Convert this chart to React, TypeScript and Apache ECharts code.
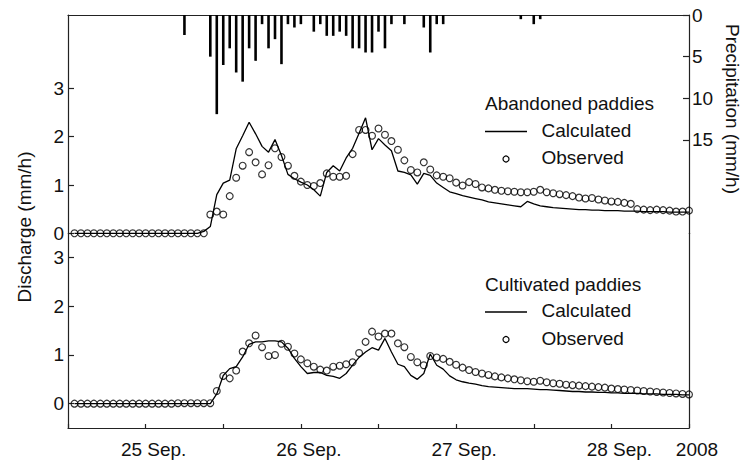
import React, { useEffect, useRef } from "react";
import * as echarts from "echarts";

// Hourly precipitation (hour since 25 Sep 00:00, mm/h)
const precipHours = [18, 22, 23, 24, 25, 26, 27, 28, 29, 30, 31, 32, 33, 34, 35, 36, 38, 39, 40, 41, 42, 43, 44, 45, 46, 47, 48, 49, 50, 52, 55, 56, 57, 58, 70, 72, 73];
const precipValues = [2.4, 5.0, 11.9, 6.0, 4.0, 6.9, 8.0, 4.0, 5.5, 1.1, 4.0, 2.9, 5.9, 1.1, 1.5, 1.1, 2.0, 1.1, 2.5, 2.5, 2.0, 2.5, 4.0, 4.0, 4.5, 4.5, 2.0, 4.0, 1.1, 1.1, 1.5, 4.5, 1.1, 1.1, 0.5, 1.1, 0.5];

// Discharge (mm/h), hours 1..96
const abandonedObs = [
  0, 0, 0, 0, 0, 0, 0, 0, 0, 0, 0, 0, 0, 0, 0, 0, 0, 0, 0, 0, 0,
  0.39, 0.45, 0.39, 0.77, 1.15, 1.40, 1.68, 1.47, 1.22, 1.41,
  1.76, 1.58, 1.40, 1.19, 1.07, 1.00, 0.98, 1.04, 1.24, 1.17,
  1.17, 1.19, 1.64, 2.14, 2.14, 2.02, 2.17, 2.04, 1.91, 1.73,
  1.51, 1.31, 1.26, 1.47, 1.32, 1.20, 1.17, 1.14, 1.05, 0.99,
  1.06, 1.02, 0.95, 0.93, 0.90, 0.88, 0.87, 0.86, 0.85, 0.85,
  0.86, 0.90, 0.85, 0.83, 0.81, 0.79, 0.77, 0.74, 0.72, 0.73,
  0.70, 0.68, 0.66, 0.65, 0.63, 0.61, 0.50, 0.49, 0.48, 0.49,
  0.48, 0.47, 0.45, 0.45, 0.47,
];
const abandonedCalc = [
  0, 0, 0, 0, 0, 0, 0, 0, 0, 0, 0, 0, 0, 0, 0, 0, 0, 0, 0, 0,
  0.04, 0.14, 0.80, 1.04, 1.10, 1.75, 2.02, 2.30, 2.06, 1.80,
  1.68, 1.94, 1.61, 1.22, 1.13, 1.06, 1.00, 0.90, 0.77, 1.26,
  1.40, 1.29, 1.56, 1.76, 2.07, 2.39, 1.73, 1.96, 1.83, 1.71,
  1.29, 1.26, 1.21, 1.02, 1.24, 1.20, 1.04, 0.95, 0.86, 0.82,
  0.78, 0.75, 0.72, 0.69, 0.65, 0.63, 0.61, 0.59, 0.57, 0.55,
  0.66, 0.61, 0.57, 0.55, 0.53, 0.52, 0.51, 0.50, 0.49, 0.49,
  0.48, 0.48, 0.47, 0.47, 0.47, 0.46, 0.46, 0.46, 0.45, 0.45,
  0.45, 0.45, 0.44, 0.44, 0.44, 0.44,
];
const cultivatedObs = [
  0, 0, 0, 0, 0, 0, 0, 0, 0, 0, 0, 0, 0, 0, 0, 0, 0.01, 0.01, 0.01, 0.01, 0.01, 0.01,
  0.26, 0.57, 0.52, 0.68, 1.07, 1.24, 1.40, 1.16, 0.98, 1.00,
  1.23, 1.17, 1.03, 0.91, 0.83, 0.76, 0.70, 0.68, 0.76, 0.78,
  0.81, 0.85, 1.04, 1.27, 1.48, 1.38, 1.44, 1.44, 1.24, 1.16,
  0.96, 0.85, 0.79, 0.98, 0.95, 0.92, 0.86, 0.80, 0.74, 0.69,
  0.65, 0.62, 0.59, 0.56, 0.54, 0.52, 0.50, 0.48, 0.46, 0.45,
  0.47, 0.44, 0.42, 0.41, 0.39, 0.38, 0.37, 0.36, 0.35, 0.34,
  0.33, 0.31, 0.30, 0.29, 0.28, 0.27, 0.26, 0.25, 0.24, 0.23,
  0.22, 0.21, 0.20, 0.19,
];
const cultivatedCalc = [
  0, 0, 0, 0, 0, 0, 0, 0, 0, 0, 0, 0, 0, 0, 0, 0, 0, 0, 0, 0, 0, 0,
  0.20, 0.58, 0.72, 0.76, 0.96, 1.22, 1.27, 1.27, 1.29, 1.29,
  1.27, 1.14, 0.93, 0.76, 0.62, 0.64, 0.64, 0.58, 0.56, 0.52,
  0.62, 0.79, 0.95, 1.06, 1.15, 1.10, 1.34, 1.06, 0.81, 0.76,
  0.58, 0.50, 0.62, 1.02, 0.79, 0.71, 0.57, 0.49, 0.45, 0.42,
  0.40, 0.37, 0.35, 0.34, 0.33, 0.32, 0.31, 0.31, 0.31, 0.30,
  0.29, 0.29, 0.28, 0.27, 0.26, 0.25, 0.25, 0.24, 0.24, 0.23,
  0.23, 0.22, 0.22, 0.21, 0.21, 0.21, 0.20, 0.20, 0.20, 0.19,
  0.19, 0.19, 0.18, 0.18,
];

const dischargeTicks = [0, 1, 2, 3];
const precipTicks = [0, 5, 10, 15];
const xLabelHours = [12, 36, 60, 84, 96];
const xLabelTexts = ["25 Sep.", "26 Sep.", "27 Sep.", "28 Sep.", "2008"];

const FONT = "'Liberation Sans', Arial, Helvetica, sans-serif";
const INK = "#111";

export default function App() {
  const ref = useRef<HTMLDivElement>(null);
  useEffect(() => {
    if (!ref.current) return;
    const chart = echarts.init(ref.current, undefined, { renderer: "svg" });
    const toPairs = (arr: number[]) => arr.map((v, i) => [i + 1, v]);
    const axisLine = { show: true, onZero: false, lineStyle: { color: "#222", width: 1.2 } };
    const labelStyle = { color: INK, fontSize: 19, fontFamily: FONT };

    const legendBlock = (title: string, top: number) => [
      { type: "text", left: 485, top: top - 11, style: { text: title, fill: INK, font: `19px ${FONT}` } },
      { type: "line", shape: { x1: 485, y1: top + 26.5, x2: 527, y2: top + 26.5 }, style: { stroke: "#000", lineWidth: 1.3 } },
      { type: "text", left: 541.5, top: top + 15.5, style: { text: "Calculated", fill: INK, font: `19px ${FONT}` } },
      { type: "circle", shape: { cx: 506, cy: top + 54, r: 3 }, style: { fill: "none", stroke: "#000", lineWidth: 1.2 } },
      { type: "text", left: 541.5, top: top + 43, style: { text: "Observed", fill: INK, font: `19px ${FONT}` } },
    ];

    chart.setOption({
      animation: false,
      textStyle: { fontFamily: FONT },
      grid: [
        { left: 68, right: 63, top: 15, height: 218.3 },
        { left: 68, right: 63, top: 233.3, height: 194.7 },
      ],
      xAxis: [
        {
          gridIndex: 0, type: "value", min: 0, max: 96, position: "top",
          axisLine, axisTick: { show: false }, axisLabel: { show: false }, splitLine: { show: false },
        },
        {
          gridIndex: 1, type: "value", min: 0, max: 96, interval: 12, position: "bottom",
          axisLine,
          axisTick: { show: true, inside: true, length: 4, lineStyle: { color: "#222", width: 1.2 } },
          axisLabel: {
            ...labelStyle, margin: 12, padding: [0, 0, 0, 16],
            showMinLabel: true, showMaxLabel: true,
            formatter: (v: number) => {
              const i = xLabelHours.indexOf(Math.round(v));
              return i >= 0 ? xLabelTexts[i] : "";
            },
          },
          splitLine: { show: false },
        },
      ],
      yAxis: [
        {
          gridIndex: 0, type: "value", min: 0, max: 4.52, position: "left",
          axisLine,
          axisTick: { show: true, inside: true, length: 6, customValues: dischargeTicks, lineStyle: { color: "#222", width: 1.2 } },
          axisLabel: { ...labelStyle, margin: 4, customValues: dischargeTicks },
          splitLine: { show: false },
        },
        {
          gridIndex: 0, type: "value", min: 0, max: 26.2, inverse: true, position: "right",
          axisLine,
          axisTick: { show: true, inside: true, length: 6, customValues: precipTicks, lineStyle: { color: "#222", width: 1.2 } },
          axisLabel: { ...labelStyle, margin: 3, customValues: precipTicks },
          splitLine: { show: false },
        },
        {
          gridIndex: 1, type: "value", min: -0.5, max: 3.5, position: "left",
          axisLine,
          axisTick: { show: true, inside: true, length: 6, customValues: dischargeTicks, lineStyle: { color: "#222", width: 1.2 } },
          axisLabel: { ...labelStyle, margin: 4, customValues: dischargeTicks },
          splitLine: { show: false },
        },
        {
          gridIndex: 1, type: "value", min: -0.5, max: 3.5, position: "right",
          axisLine, axisTick: { show: false }, axisLabel: { show: false }, splitLine: { show: false },
        },
      ],
      series: [
        {
          type: "bar", xAxisIndex: 0, yAxisIndex: 1, barWidth: 2.6,
          data: precipHours.map((h, i) => [h, precipValues[i]]),
          itemStyle: { color: "#000" },
        },
        {
          type: "line", xAxisIndex: 0, yAxisIndex: 0, symbol: "none",
          data: toPairs(abandonedCalc), lineStyle: { color: "#000", width: 1.3 },
        },
        {
          type: "scatter", xAxisIndex: 0, yAxisIndex: 0, symbol: "circle", symbolSize: 6.8,
          data: toPairs(abandonedObs),
          itemStyle: { color: "rgba(0,0,0,0)", borderColor: "#000", borderWidth: 1.2 },
        },
        {
          type: "line", xAxisIndex: 1, yAxisIndex: 2, symbol: "none",
          data: toPairs(cultivatedCalc), lineStyle: { color: "#000", width: 1.3 },
        },
        {
          type: "scatter", xAxisIndex: 1, yAxisIndex: 2, symbol: "circle", symbolSize: 6.8,
          data: toPairs(cultivatedObs),
          itemStyle: { color: "rgba(0,0,0,0)", borderColor: "#000", borderWidth: 1.2 },
        },
      ],
      graphic: [
        {
          type: "text", x: 24, y: 227, rotation: Math.PI / 2,
          style: { text: "Discharge (mm/h)", fill: INK, font: `19px ${FONT}`, align: "center", verticalAlign: "middle" },
        },
        {
          type: "text", x: 732, y: 109, rotation: -Math.PI / 2,
          style: { text: "Precipitation (mm/h)", fill: INK, font: `19px ${FONT}`, align: "center", verticalAlign: "middle" },
        },
        ...legendBlock("Abandoned paddies", 105),
        ...legendBlock("Cultivated paddies", 285.5),
      ],
    });
    return () => chart.dispose();
  }, []);
  return (
    <div
      ref={ref}
      style={{ position: "absolute", left: 0, top: 0, width: 752, height: 461, background: "#fff" }}
    />
  );
}
